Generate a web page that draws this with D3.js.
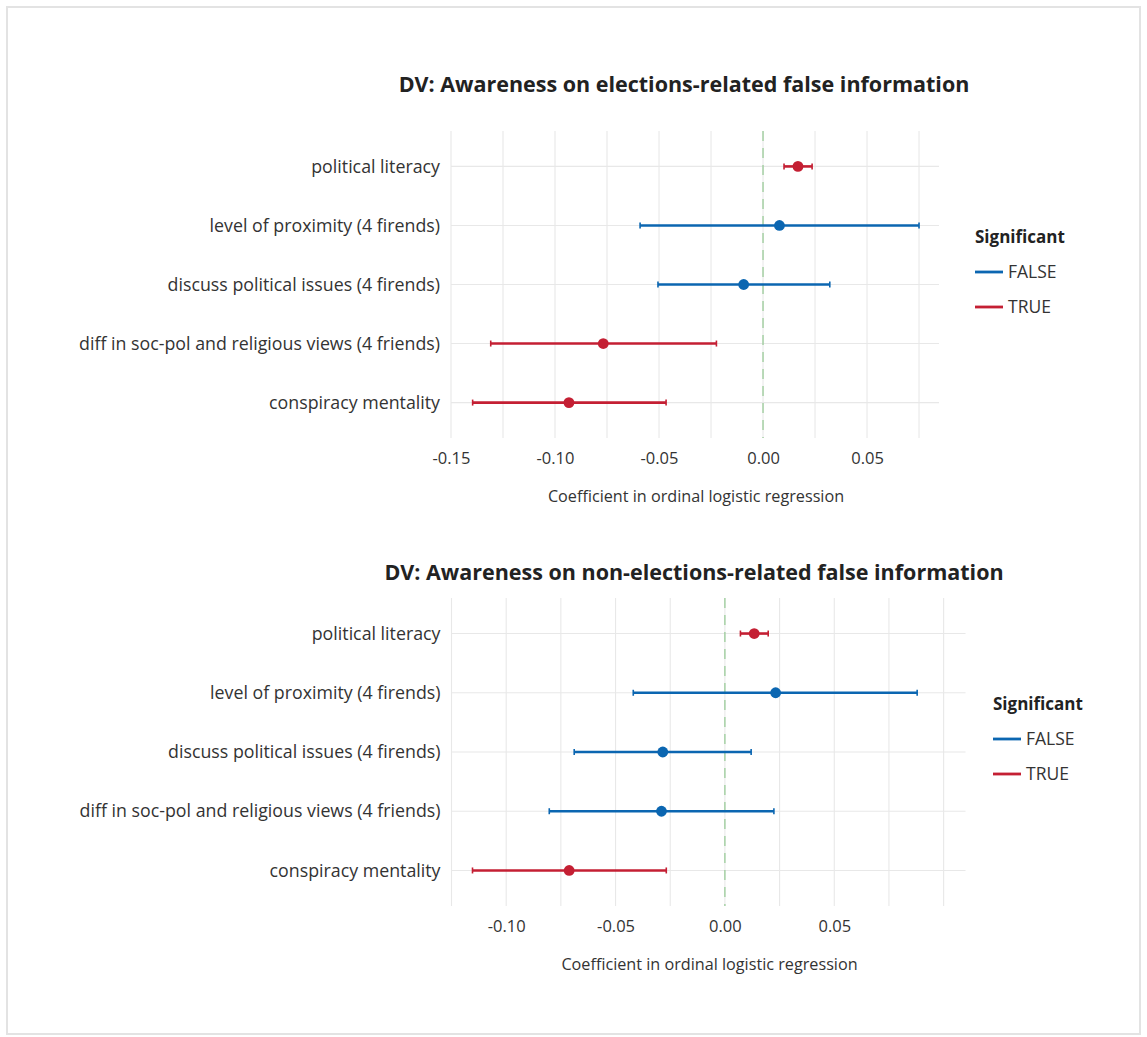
<!DOCTYPE html>
<html>
<head>
<meta charset="utf-8">
<script src="https://cdn.jsdelivr.net/npm/d3@7"></script>
<style>
  html, body { margin: 0; padding: 0; background: #fff; }
  svg { display: block; font-family: "Open Sans", "Noto Sans", sans-serif; }
</style>
</head>
<body>
<svg id="chart" width="1147" height="1037"></svg>
<script>
// Predictors shown on both panels (top to bottom)
const categories = [
  "political literacy",
  "level of proximity (4 firends)",
  "discuss political issues (4 firends)",
  "diff in soc-pol and religious views (4 friends)",
  "conspiracy mentality"
];

// Panel 1: elections-related false information
const electionsEstimate    = [0.0168, 0.0079, -0.0093, -0.0768, -0.0933];
const electionsLower       = [0.0101, -0.0591, -0.0505, -0.1309, -0.1396];
const electionsUpper       = [0.0236, 0.0750, 0.0321, -0.0224, -0.0466];
const electionsSignificant = [true, false, false, true, true];

// Panel 2: non-elections-related false information
const nonElectionsEstimate    = [0.0134, 0.0232, -0.0284, -0.0290, -0.0712];
const nonElectionsLower       = [0.0071, -0.0419, -0.0689, -0.0803, -0.1154];
const nonElectionsUpper       = [0.0198, 0.0879, 0.0120, 0.0224, -0.0268];
const nonElectionsSignificant = [true, false, false, false, true];

// Axis ticks and grid breaks
const electionsTicks    = [-0.15, -0.10, -0.05, 0.00, 0.05];
const electionsGrid     = [-0.15, -0.125, -0.10, -0.075, -0.05, -0.025, 0, 0.025, 0.05, 0.075];
const nonElectionsTicks = [-0.10, -0.05, 0.00, 0.05];
const nonElectionsGrid  = [-0.125, -0.10, -0.075, -0.05, -0.025, 0, 0.025, 0.05, 0.075, 0.10];

const legendLabels = ["FALSE", "TRUE"];

const color = d3.scaleOrdinal()
  .domain([false, true])
  .range(["#0b66b1", "#c41f33"]);

// plain hyphen for negative tick labels
const fmt = d => d3.format(".2f")(d).replace("\u2212", "-");

const svg = d3.select("#chart");

// outer frame
svg.append("rect")
  .attr("x", 7).attr("y", 7)
  .attr("width", 1133).attr("height", 1027)
  .attr("fill", "none")
  .attr("stroke", "#e3e3e3")
  .attr("stroke-width", 2);

function buildRows(est, lo, hi, sig) {
  return categories.map((c, i) => ({
    term: c, estimate: est[i], lower: lo[i], upper: hi[i], significant: sig[i]
  }));
}

function drawPanel(opts) {
  const { rows, title, titleX, titleY, left, right, top, bottom,
          domain, ticks, grid, legendX, legendY } = opts;
  const g = svg.append("g");

  const x = d3.scaleLinear().domain(domain).range([left, right]);
  const y = d3.scalePoint().domain(categories).range([top, bottom]).padding(0.6);

  // grid
  g.append("g").selectAll("line").data(grid).join("line")
    .attr("x1", d => x(d)).attr("x2", d => x(d))
    .attr("y1", top).attr("y2", bottom)
    .attr("stroke", "#e8e8e8").attr("stroke-width", 1.1);
  g.append("g").selectAll("line").data(categories).join("line")
    .attr("x1", left).attr("x2", right)
    .attr("y1", d => y(d)).attr("y2", d => y(d))
    .attr("stroke", "#e8e8e8").attr("stroke-width", 1.1);

  // zero reference line
  g.append("line")
    .attr("x1", x(0)).attr("x2", x(0))
    .attr("y1", top).attr("y2", bottom)
    .attr("stroke", "#8cc68a").attr("stroke-width", 1.1)
    .attr("stroke-dasharray", "10,7");

  // axes
  const xAxis = g.append("g")
    .attr("transform", `translate(0,${bottom + 11})`)
    .call(d3.axisBottom(x).tickValues(ticks).tickFormat(fmt).tickSize(0));
  xAxis.select(".domain").remove();
  xAxis.selectAll("text")
    .attr("font-size", 16.5).attr("fill", "#333")
    .attr("font-family", "'Open Sans', sans-serif");

  const yAxis = g.append("g")
    .attr("transform", `translate(${left - 11},0)`)
    .call(d3.axisLeft(y).tickSize(0).tickPadding(0));
  yAxis.select(".domain").remove();
  yAxis.selectAll("text")
    .attr("font-size", 17.8).attr("fill", "#333")
    .attr("font-family", "'Open Sans', sans-serif");

  g.append("text")
    .attr("x", (left + right) / 2 + 1).attr("y", bottom + 64)
    .attr("text-anchor", "middle")
    .attr("font-size", 16.2).attr("fill", "#333")
    .text("Coefficient in ordinal logistic regression");

  // title
  g.append("text")
    .attr("x", titleX).attr("y", titleY)
    .attr("text-anchor", "middle")
    .attr("font-size", 21.5).attr("font-weight", "bold").attr("fill", "#222")
    .text(title);

  // error bars
  const bars = g.append("g").selectAll("g").data(rows).join("g")
    .attr("stroke", d => color(d.significant));
  bars.append("line")
    .attr("x1", d => x(d.lower)).attr("x2", d => x(d.upper))
    .attr("y1", d => y(d.term)).attr("y2", d => y(d.term))
    .attr("stroke-width", 2.6);
  bars.append("line")
    .attr("x1", d => x(d.lower)).attr("x2", d => x(d.lower))
    .attr("y1", d => y(d.term) - 3).attr("y2", d => y(d.term) + 3)
    .attr("stroke-width", 1.6);
  bars.append("line")
    .attr("x1", d => x(d.upper)).attr("x2", d => x(d.upper))
    .attr("y1", d => y(d.term) - 3).attr("y2", d => y(d.term) + 3)
    .attr("stroke-width", 1.6);

  // point estimates
  g.append("g").selectAll("circle").data(rows).join("circle")
    .attr("cx", d => x(d.estimate)).attr("cy", d => y(d.term))
    .attr("r", 5.4)
    .attr("fill", d => color(d.significant));

  // legend
  const lg = g.append("g").attr("transform", `translate(${legendX},${legendY})`);
  lg.append("text")
    .attr("x", 0).attr("y", 0)
    .attr("font-size", 17).attr("font-weight", "bold").attr("fill", "#222")
    .text("Significant");
  legendLabels.forEach((lab, i) => {
    const yy = 29 + i * 35;
    lg.append("line")
      .attr("x1", 0).attr("x2", 28)
      .attr("y1", yy).attr("y2", yy)
      .attr("stroke", color(lab === "TRUE"))
      .attr("stroke-width", 2.8);
    lg.append("text")
      .attr("x", 33).attr("y", yy + 6)
      .attr("font-size", 17.5).attr("fill", "#333")
      .text(lab);
  });
}

drawPanel({
  rows: buildRows(electionsEstimate, electionsLower, electionsUpper, electionsSignificant),
  title: "DV: Awareness on elections-related false information",
  titleX: 684, titleY: 92,
  left: 451, right: 939, top: 131, bottom: 438,
  domain: [-0.15, 0.0846],
  ticks: electionsTicks, grid: electionsGrid,
  legendX: 975, legendY: 243
});

drawPanel({
  rows: buildRows(nonElectionsEstimate, nonElectionsLower, nonElectionsUpper, nonElectionsSignificant),
  title: "DV: Awareness on non-elections-related false information",
  titleX: 694, titleY: 580,
  left: 451.5, right: 965.5, top: 598, bottom: 906,
  domain: [-0.125, 0.110],
  ticks: nonElectionsTicks, grid: nonElectionsGrid,
  legendX: 993, legendY: 710
});
</script>
</body>
</html>
